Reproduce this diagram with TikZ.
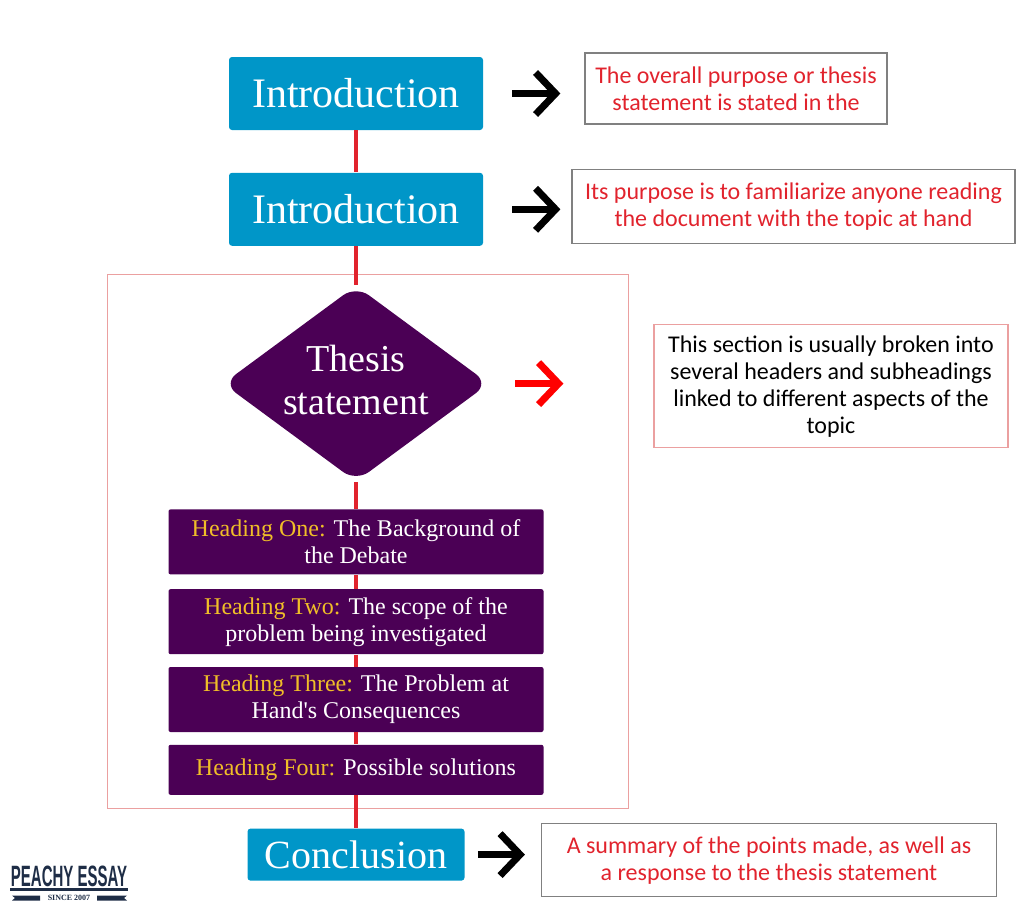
\documentclass[tikz,border=0pt]{standalone}
\usepackage{fontspec}
\setmainfont{Liberation Serif}
\newfontfamily\sidefont{Carlito}
\newfontfamily\logofont{Liberation Sans}
\usetikzlibrary{positioning}
\usetikzlibrary{shapes.geometric}
\usetikzlibrary{arrows.meta}
\definecolor{introblue}{RGB}{0,150,200}
\definecolor{deeppurple}{RGB}{75,0,85}
\definecolor{headyellow}{RGB}{240,190,40}
\definecolor{linkred}{RGB}{225,35,45}
\definecolor{framepink}{RGB}{235,160,160}
\definecolor{logonavy}{RGB}{30,45,70}
\tikzset{
  intro/.style={rectangle,rounded corners=1.5pt,fill=introblue,text=white,
    minimum width=127pt,minimum height=36.5pt,font=\fontsize{21}{25}\selectfont},
  thesis/.style={diamond,aspect=1.355,inner sep=0pt,rounded corners=8pt,
    fill=deeppurple,text=white,align=center,minimum width=133pt,minimum height=98pt,
    font=\fontsize{19}{21.5}\selectfont},
  head/.style={rectangle,rounded corners=1pt,fill=deeppurple,text=white,align=center,
    minimum width=187.5pt,minimum height=32.5pt,inner sep=2pt,
    font=\fontsize{12}{13.5}\selectfont},
  side/.style={rectangle,draw=gray,line width=0.6pt,text=linkred,align=center,
    inner sep=2pt,font=\sidefont\fontsize{12}{13.5}\selectfont},
  link/.style={draw=linkred,line width=2pt},
  pointer/.style={draw=black,line width=3.5pt,-{Straight Barb[length=10pt,width=21pt]}}
}
\newcommand{\hd}[1]{\textcolor{headyellow}{#1}}
\begin{document}
\begin{tikzpicture}[x=0.5pt,y=-0.5pt]
  \useasboundingbox (0,0) rectangle (1024,906);
  \draw[draw=framepink,line width=0.5pt,fill=white] (107,274) rectangle (628,808);
  \node[intro] (i1) at (356,93.5) {Introduction};
  \node[intro,below=21pt of i1] (i2) {Introduction};
  \node[thesis,below=19.5pt of i2] (th) {\raisebox{3.5pt}{Thesis}\\\raisebox{3.5pt}{statement}};
  \node[head,below=13.5pt of th] (h1) {\hd{Heading One:} The Background of\\the Debate};
  \node[head,below=7pt of h1] (h2) {\hd{Heading Two:} The scope of the\\problem being investigated};
  \node[head,below=6pt of h2] (h3) {\hd{Heading Three:} The Problem at\\Hand\textquotesingle s Consequences};
  \node[head,below=6pt of h3,minimum height=25pt] (h4) {\hd{Heading Four:} Possible solutions};
  \node[intro,below=16.5pt of h4,minimum width=108.5pt,minimum height=26pt,
    font=\fontsize{20}{24}\selectfont] (cc) {Conclusion};
  \node[side,right=50.5pt of i1,yshift=2.5pt,minimum width=151pt,minimum height=35.5pt] (s1)
    {The overall purpose or thesis\\statement is stated in the};
  \node[side,right=44pt of i2,yshift=1.25pt,minimum width=221.5pt,minimum height=37pt] (s2)
    {Its purpose is to familiarize anyone reading\\the document with the topic at hand};
  \node[side,draw=framepink,text=black,right=82pt of th,yshift=-1.25pt,
    minimum width=177pt,minimum height=61.5pt] (s3)
    {This section is usually broken into\\several headers and subheadings\\linked to different aspects of the\\topic};
  \node[side,right=38pt of cc,yshift=-2.75pt,minimum width=227.5pt,minimum height=36.5pt] (s4)
    {A summary of the points made, as well as\\a response to the thesis statement};
  % red spine
  \draw[link] (i1) -- (i2);
  \draw[link] (i2) -- (th);
  \draw[link] (th) -- (h1);
  \draw[link] (h1) -- (h2);
  \draw[link] (h2) -- (h3);
  \draw[link] (h3) -- (h4);
  \draw[link] (h4) -- (cc);
  % arrows to the notes
  \draw[pointer,shorten <=14.5pt,shorten >=12pt] (i1.east) -- (i1.east -| s1.west);
  \draw[pointer,shorten <=14.5pt,shorten >=5.5pt] (i2.east) -- (i2.east -| s2.west);
  \draw[pointer,draw=red,shorten <=13pt,shorten >=45pt] (th.east) -- (th.east -| s3.west);
  \draw[pointer,shorten <=6.5pt,shorten >=8pt] (cc.east) -- (cc.east -| s4.west);
  % logo
  \node[text=logonavy,inner sep=0pt] (logo) at (69,876)
    {\scalebox{0.51}[1]{\logofont\bfseries\fontsize{14.7}{15}\selectfont PEACHY ESSAY}};
  \node[text=logonavy,inner sep=0pt,font=\bfseries\fontsize{4}{4}\selectfont] (since) at (69,898) {SINCE 2007};
  \fill[logonavy] (10,887.5) rectangle (128,890.5);
  \fill[logonavy] (12,895.5) -- (40,895.5) -- (40,900.5) -- (12,900.5) -- (15,898) -- cycle;
  \fill[logonavy] (97,895.5) -- (127,895.5) -- (124,898) -- (127,900.5) -- (97,900.5) -- cycle;
\end{tikzpicture}
\end{document}
